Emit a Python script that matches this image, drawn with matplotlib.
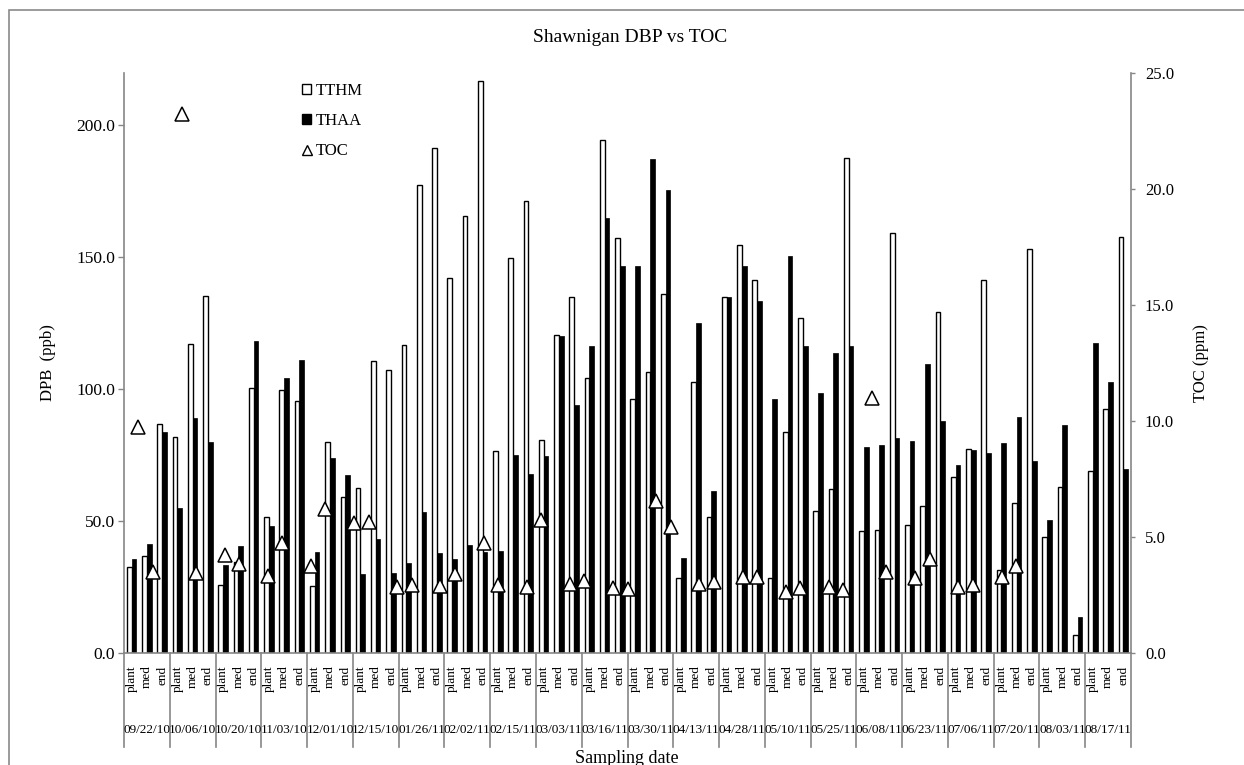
import matplotlib.pyplot as plt
import numpy as np
from matplotlib.patches import Patch, Rectangle
from matplotlib.lines import Line2D
from matplotlib.ticker import FormatStrFormatter
from matplotlib.transforms import blended_transform_factory

plt.rcParams['font.family'] = ['Liberation Serif', 'DejaVu Serif']

# sampling dates, three sites per date
dates = ['09/22/10', '10/06/10', '10/20/10', '11/03/10', '12/01/10', '12/15/10',
         '01/26/11', '02/02/11', '02/15/11', '03/03/11', '03/16/11', '03/30/11',
         '04/13/11', '04/28/11', '05/10/11', '05/25/11', '06/08/11', '06/23/11',
         '07/06/11', '07/20/11', '08/03/11', '08/17/11']
sites = ['plant', 'med', 'end']

# DBP (ppb), one value per date/site
tthm = [32.6, 36.7, 86.7, 81.9, 117.0, 135.5, 25.7, 34.5, 100.3, 51.7, 99.6, 95.7,
        25.4, 80.0, 59.0, 62.6, 110.6, 107.2, 116.7, 177.5, 191.3, 142.0, 165.7, 216.7,
        76.5, 149.7, 171.3, 80.9, 120.6, 135.1, 104.3, 194.5, 157.2, 96.4, 106.5, 136.2,
        28.3, 102.6, 51.4, 134.8, 154.8, 141.3, 28.3, 83.6, 127.1, 53.9, 62.0, 187.7,
        46.1, 46.7, 159.4, 48.6, 55.8, 129.4, 66.7, 77.5, 141.3, 31.4, 56.8, 153.2,
        43.8, 62.8, 7.0, 69.1, 92.5, 157.7]
thaa = [35.8, 41.3, 83.6, 55.1, 89.1, 80.1, 33.3, 40.5, 118.4, 48.3, 104.3, 110.9,
        38.4, 73.9, 67.4, 30.0, 43.2, 30.4, 34.0, 53.6, 38.0, 35.5, 41.0, 38.4,
        38.7, 75.1, 67.7, 74.6, 120.0, 94.2, 116.4, 164.9, 146.8, 146.8, 187.2, 175.7,
        36.2, 125.1, 61.6, 134.8, 146.8, 133.6, 96.2, 150.4, 116.4, 98.6, 113.8, 116.4,
        78.0, 79.0, 81.4, 80.4, 109.7, 88.1, 71.4, 77.1, 75.7, 79.7, 89.4, 72.9,
        50.3, 86.5, 13.5, 117.4, 102.9, 69.9]

# TOC (ppm) series, on its own secondary category axis (71 slots)
toc = [None, 9.75, 3.47, None, 23.24, 3.43, None, 4.22, 3.83, None, 3.32, 4.72,
       None, 3.75, 6.2, None, 5.59, 5.66, None, 2.83, 2.93, None, 2.89, 3.4,
       None, 4.75, 2.93, None, 2.83, 5.73, None, 2.96, 3.12, None, 2.79, 2.76,
       None, 6.55, 5.44, None, 2.97, 3.07, None, 3.29, 3.26, None, 2.64, 2.79,
       None, 2.83, 2.71, None, 11.0, 3.5, None, 3.24, 4.05, None, 2.83, 2.93,
       None, 3.26, 3.76, None, None, None, None, None, None, None, None]

W, H = 1244, 765
grey = '#868686'

fig = plt.figure(figsize=(W / 100, H / 100), dpi=100)
fig.patches.append(Rectangle((9 / W, -0.1), 2, 1 - 10 / H + 0.1, transform=fig.transFigure,
                             fill=False, edgecolor='#8a8a8a', linewidth=1.2))

ax = fig.add_axes([124 / W, 112 / H, 1007 / W, 580.3 / H])
x = np.arange(len(tthm))
w = 0.31
ax.bar(x - w / 2, tthm, w, color='white', edgecolor='black', linewidth=1.0, zorder=2)
ax.bar(x + w / 2, thaa, w, color='black', edgecolor='black', linewidth=0.5, zorder=2)

ax.set_xlim(-0.5, len(tthm) - 0.5)
ax.set_ylim(0, 220)
ax.set_yticks(np.arange(0, 201, 50))
ax.yaxis.set_major_formatter(FormatStrFormatter('%.1f'))
ax.set_xticks(x)
ax.set_xticklabels(sites * len(dates), rotation=90)
ax.tick_params(axis='x', length=0, pad=9, labelsize=9.5)
ax.tick_params(axis='y', direction='out', length=4.3, width=1, color=grey, pad=2, labelsize=12.5)
for s in ['top', 'right']:
    ax.spines[s].set_visible(False)
for s in ['left', 'bottom']:
    ax.spines[s].set_color(grey)
    ax.spines[s].set_linewidth(1.2)

# group separators and date labels
trans = blended_transform_factory(ax.transData, ax.transAxes)
for g in range(len(dates) + 1):
    xb = g * 3 - 0.5
    ax.plot([xb, xb], [0, -0.162], transform=trans, color=grey, lw=1.2, clip_on=False)
for g, d in enumerate(dates):
    ax.text(g * 3 + 1, -0.1327, d, transform=trans, ha='center', va='center', fontsize=9.5)

ax2 = ax.twinx()
ax2.set_ylim(0, 25)
ax2.set_yticks(np.arange(0, 26, 5))
ax2.yaxis.set_major_formatter(FormatStrFormatter('%.1f'))
ax2.tick_params(axis='y', direction='out', length=3, width=1, color=grey, pad=7, labelsize=12)
for s in ['top', 'left', 'bottom']:
    ax2.spines[s].set_visible(False)
ax2.spines['right'].set_color(grey)
ax2.spines['right'].set_linewidth(1.2)

ax3 = ax2.twiny()
ax3.set_xlim(0, len(toc) - 1)
slots = np.arange(len(toc))
toc_vals = np.array([np.nan if v is None else v for v in toc])
ax3.plot(slots, toc_vals, ls='none', marker='^', ms=10, mfc='white', mec='black', mew=1.1,
         clip_on=False)
ax3.xaxis.set_visible(False)
for s in ax3.spines.values():
    s.set_visible(False)

handles = [Patch(facecolor='white', edgecolor='black', linewidth=1.0),
           Patch(facecolor='black', edgecolor='black'),
           Line2D([], [], ls='none', marker='^', ms=7, mfc='white', mec='black', mew=1.0)]
ax3.legend(handles, ['TTHM', 'THAA', 'TOC'], loc='upper left',
           bbox_to_anchor=(302 / W, 1 - 83 / H), bbox_transform=fig.transFigure,
           frameon=False, handlelength=0.55, handleheight=0.55, handletextpad=0.25,
           labelspacing=0.85, fontsize=12, borderpad=0, borderaxespad=0)

fig.text(630 / W, 1 - 37 / H, 'Shawnigan DBP vs TOC', ha='center', va='center', fontsize=14)
fig.text(47.5 / W, 1 - 363 / H, 'DPB  (ppb)', ha='center', va='center', rotation=90, fontsize=12)
fig.text(1201 / W, 1 - 363 / H, 'TOC (ppm)', ha='center', va='center', rotation=90, fontsize=12)
fig.text(627 / W, 1 - 750 / H, 'Sampling date', ha='center', va='top', fontsize=13)

fig.savefig('out.png', dpi=100)
